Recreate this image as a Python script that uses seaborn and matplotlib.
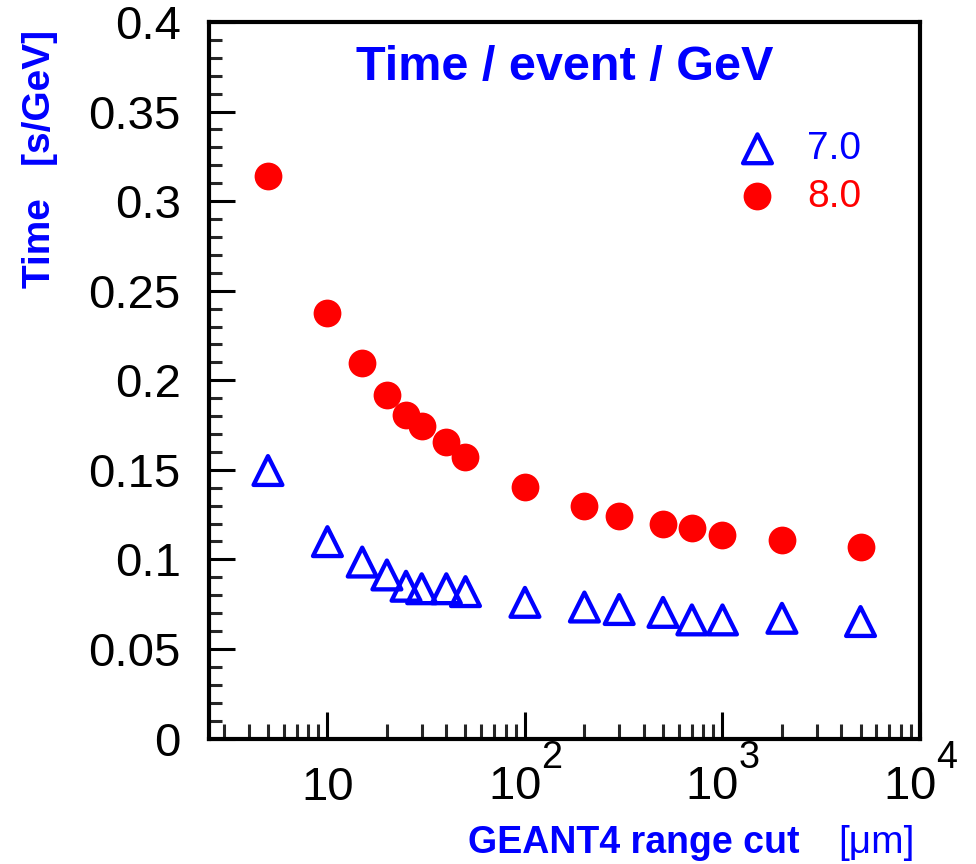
import numpy as np
import pandas as pd
import matplotlib
matplotlib.use("Agg")
import matplotlib.pyplot as plt
import matplotlib._mathtext as _mt
import seaborn as sns
from matplotlib.ticker import FixedLocator, FixedFormatter, LogLocator, MultipleLocator

# ---- data ----
range_cut_um = [5, 10, 15, 20, 25, 30, 40, 50, 100, 200, 300, 500, 700, 1000, 2000, 5000]
time_v70 = [0.1496, 0.1099, 0.0985, 0.0913, 0.0850, 0.0836, 0.0836, 0.0820,
            0.0760, 0.0734, 0.0720, 0.0704, 0.0662, 0.0662, 0.0671, 0.0653]
time_v80 = [0.3143, 0.2376, 0.2097, 0.1919, 0.1807, 0.1746, 0.1658, 0.1574,
            0.1403, 0.1298, 0.1242, 0.1198, 0.1175, 0.1136, 0.1106, 0.1071]
series_labels = ["7.0", "8.0"]
y_ticks = [0, 0.05, 0.1, 0.15, 0.2, 0.25, 0.3, 0.35, 0.4]
y_ticklabels = ["0", "0.05", "0.1", "0.15", "0.2", "0.25", "0.3", "0.35", "0.4"]
x_ticks = [10, 100, 1000, 10000]
x_ticklabels = ["10", "$10^{2}$", "$10^{3}$", "$10^{4}$"]

df70 = pd.DataFrame({"cut": range_cut_um, "time": time_v70, "version": series_labels[0]})
df80 = pd.DataFrame({"cut": range_cut_um, "time": time_v80, "version": series_labels[1]})

# larger / higher superscripts (ROOT style exponents)
try:
    _mt.SHRINK_FACTOR = 0.8
    _mt.FontConstantsBase.sup1 = 1.25
except Exception:
    pass

sns.set_theme(style="ticks")
plt.rcParams["font.family"] = ["Liberation Sans", "DejaVu Sans"]
plt.rcParams["mathtext.default"] = "regular"
plt.rcParams["axes.linewidth"] = 3.0

BLUE = "#0000ff"
RED = "#ff0000"

fig = plt.figure(figsize=(9.76, 8.64), dpi=100)
ax = fig.add_axes([208.5 / 976, 1 - 738.5 / 864, (920 - 208.5) / 976, (738.5 - 22) / 864])

sns.scatterplot(data=df70, x="cut", y="time", marker="^", s=430,
                facecolors="none", edgecolor=BLUE, linewidth=3.1,
                label=series_labels[0], ax=ax, zorder=3)
sns.scatterplot(data=df80, x="cut", y="time", marker="o", s=400,
                color=RED, linewidth=0, label=series_labels[1], ax=ax, zorder=4)

ax.set_xscale("log")
ax.set_xlim(2.5, 1e4)
ax.set_ylim(0, 0.4)

for s in ax.spines.values():
    s.set_linewidth(3.0)
    s.set_color("black")

ax.yaxis.set_major_locator(FixedLocator(y_ticks))
ax.yaxis.set_major_formatter(FixedFormatter(y_ticklabels))
ax.yaxis.set_minor_locator(MultipleLocator(0.01))
ax.xaxis.set_major_locator(FixedLocator(x_ticks))
ax.xaxis.set_major_formatter(FixedFormatter(x_ticklabels))
ax.xaxis.set_minor_locator(LogLocator(base=10, subs=np.arange(2, 10)))

ax.tick_params(axis="y", which="major", direction="in", length=18.7, width=2.2,
               labelsize=34, pad=20, colors="black", left=True, right=False)
ax.tick_params(axis="y", which="minor", direction="in", length=9.4, width=2.2,
               left=True, right=False)
ax.tick_params(axis="x", which="major", direction="in", length=19.4, width=2.2,
               labelsize=34, pad=44, colors="black", bottom=True, top=False)
ax.tick_params(axis="x", which="minor", direction="in", length=10.8, width=2.2,
               bottom=True, top=False)
for lab in ax.get_xticklabels():
    lab.set_verticalalignment("baseline")

ax.set_xlabel("GEANT4 range cut", fontsize=27, fontweight="bold", color=BLUE,
              ha="right", va="center")
ax.xaxis.set_label_coords((800 - 208.5) / 711.5, (738.5 - 843) / 716.5)
ax.text((838 - 208.5) / 711.5, (738.5 - 843) / 716.5, "[\u03bcm]", transform=ax.transAxes,
        fontsize=28, color=BLUE, ha="left", va="center")

ax.set_ylabel("Time   [s/GeV]", fontsize=28, fontweight="bold", color=BLUE,
              ha="right", va="center")
ax.yaxis.set_label_coords((40 - 208.5) / 711.5, (738.5 - 30) / 716.5)

ax.set_title("Time / event / GeV", fontsize=35, fontweight="bold", color=BLUE,
             y=(738.5 - 76) / 716.5, va="center")

leg = ax.legend(loc="upper left", bbox_to_anchor=((739 - 208.5) / 711.5, (738.5 - 131) / 716.5),
                frameon=False, fontsize=28, handlelength=0.95, handletextpad=0.8,
                labelspacing=0.3, borderpad=0, borderaxespad=0)
for txt, c in zip(leg.get_texts(), [BLUE, RED]):
    txt.set_color(c)

fig.savefig("out.png", dpi=100, facecolor="white")
